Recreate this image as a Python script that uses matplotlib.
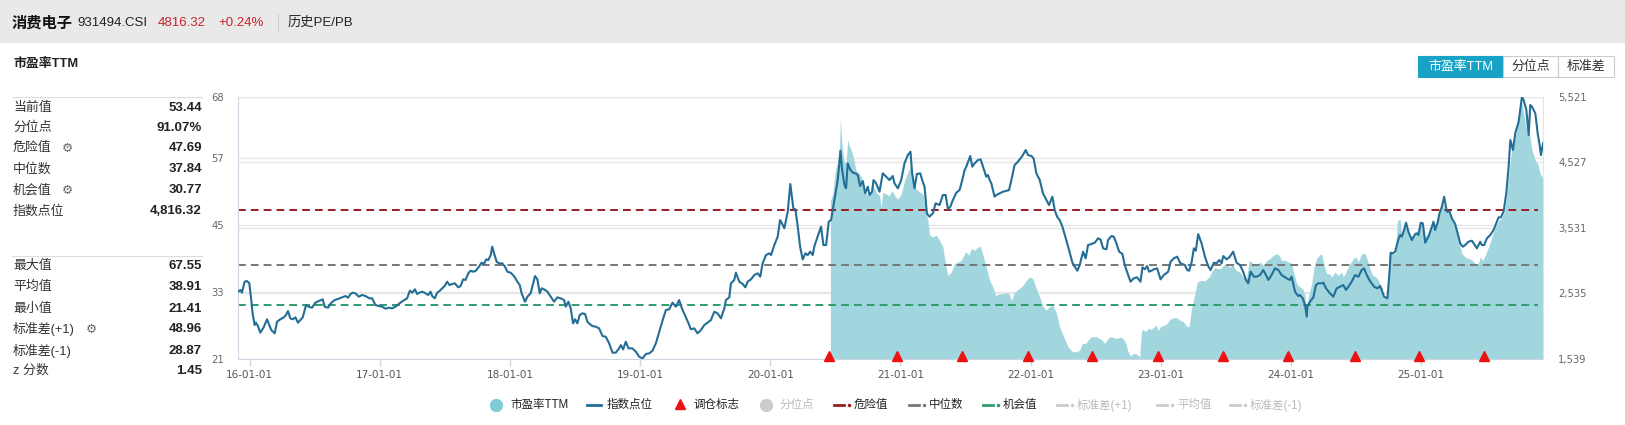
import matplotlib
matplotlib.use('Agg')
import matplotlib.pyplot as plt
from matplotlib.patches import Rectangle
from matplotlib.ticker import FuncFormatter

plt.rcParams['font.family'] = ['Liberation Sans', 'Noto Sans CJK SC', 'DejaVu Sans']

# ---- data (dates as decimal years) ----
# index level (right axis)
index_pts = [
    (2015.911, 2562), (2015.929, 2587), (2015.941, 2547), (2015.962, 2714), (2015.980, 2724), (2015.998, 2689),
    (2016.013, 2435), (2016.023, 2233), (2016.039, 2055), (2016.049, 2091), (2016.064, 2040), (2016.082, 1939),
    (2016.108, 2020), (2016.134, 2142), (2016.146, 2081), (2016.167, 1979), (2016.193, 1929), (2016.211, 2106),
    (2016.236, 2142), (2016.262, 2172), (2016.280, 2208), (2016.295, 2268), (2016.313, 2157), (2016.331, 2142),
    (2016.352, 2172), (2016.372, 2091), (2016.390, 2131), (2016.408, 2172), (2016.434, 2359), (2016.454, 2334),
    (2016.480, 2319), (2016.505, 2395), (2016.531, 2420), (2016.562, 2446), (2016.577, 2334), (2016.603, 2319),
    (2016.628, 2395), (2016.654, 2435), (2016.685, 2456), (2016.711, 2476), (2016.736, 2496), (2016.757, 2471),
    (2016.775, 2527), (2016.793, 2547), (2016.813, 2537), (2016.839, 2486), (2016.864, 2512), (2016.890, 2496),
    (2016.921, 2461), (2016.941, 2461), (2016.967, 2359), (2016.993, 2344), (2017.018, 2334), (2017.044, 2304),
    (2017.070, 2319), (2017.095, 2309), (2017.121, 2334), (2017.146, 2375), (2017.172, 2415), (2017.210, 2461),
    (2017.231, 2577), (2017.249, 2547), (2017.270, 2598), (2017.287, 2527), (2017.305, 2547), (2017.326, 2562),
    (2017.352, 2537), (2017.372, 2512), (2017.390, 2562), (2017.403, 2496), (2017.423, 2461), (2017.441, 2547),
    (2017.459, 2572), (2017.480, 2613), (2017.500, 2653), (2017.518, 2714), (2017.536, 2663), (2017.557, 2679),
    (2017.577, 2689), (2017.603, 2628), (2017.621, 2648), (2017.641, 2750), (2017.659, 2740), (2017.680, 2841),
    (2017.698, 2881), (2017.716, 2866), (2017.736, 2876), (2017.762, 2942), (2017.782, 3003), (2017.800, 2983),
    (2017.818, 3053), (2017.834, 3043), (2017.852, 3119), (2017.864, 3246), (2017.882, 3119), (2017.898, 3018),
    (2017.916, 2993), (2017.941, 2993), (2017.962, 2942), (2017.980, 2866), (2018.005, 2851), (2018.031, 2800),
    (2018.057, 2714), (2018.075, 2663), (2018.090, 2537), (2018.116, 2410), (2018.134, 2486), (2018.159, 2537),
    (2018.172, 2638), (2018.193, 2800), (2018.211, 2750), (2018.229, 2537), (2018.244, 2613), (2018.262, 2598),
    (2018.288, 2562), (2018.313, 2486), (2018.339, 2410), (2018.364, 2476), (2018.390, 2461), (2018.416, 2435),
    (2018.429, 2334), (2018.449, 2410), (2018.467, 2309), (2018.485, 2081), (2018.500, 2142), (2018.518, 2081),
    (2018.536, 2208), (2018.557, 2233), (2018.577, 2223), (2018.595, 2106), (2018.613, 2071), (2018.634, 2040),
    (2018.659, 2030), (2018.685, 2005), (2018.711, 1888), (2018.736, 1878), (2018.762, 1777), (2018.788, 1635),
    (2018.813, 1635), (2018.839, 1701), (2018.852, 1751), (2018.870, 1686), (2018.890, 1802), (2018.911, 1701),
    (2018.941, 1701), (2018.967, 1650), (2018.993, 1574), (2019.018, 1545), (2019.044, 1615), (2019.070, 1625),
    (2019.095, 1665), (2019.121, 1777), (2019.147, 1954), (2019.172, 2121), (2019.198, 2283), (2019.223, 2294),
    (2019.249, 2395), (2019.275, 2334), (2019.300, 2435), (2019.321, 2309), (2019.347, 2192), (2019.372, 2081),
    (2019.390, 1990), (2019.416, 2005), (2019.441, 1929), (2019.467, 1979), (2019.493, 2055), (2019.518, 2091),
    (2019.544, 2131), (2019.570, 2258), (2019.595, 2233), (2019.621, 2157), (2019.647, 2309), (2019.659, 2435),
    (2019.685, 2476), (2019.698, 2689), (2019.723, 2740), (2019.736, 2851), (2019.762, 2714), (2019.788, 2679),
    (2019.808, 2628), (2019.826, 2714), (2019.852, 2750), (2019.877, 2815), (2019.903, 2841), (2019.923, 2790),
    (2019.941, 2993), (2019.967, 3119), (2019.993, 3145), (2020.006, 3119), (2020.031, 3271), (2020.057, 3398),
    (2020.075, 3651), (2020.090, 3601), (2020.108, 3525), (2020.134, 3778), (2020.154, 4198), (2020.177, 3829),
    (2020.193, 3813), (2020.211, 3550), (2020.229, 3246), (2020.249, 3053), (2020.270, 3145), (2020.288, 3119),
    (2020.306, 3170), (2020.326, 3119), (2020.339, 3256), (2020.357, 3357), (2020.377, 3474), (2020.390, 3550),
    (2020.408, 3271), (2020.429, 3271), (2020.449, 3626), (2020.467, 3651), (2020.493, 3965), (2020.518, 4259),
    (2020.531, 4523), (2020.539, 4705), (2020.552, 4411), (2020.570, 4183), (2020.582, 4133), (2020.595, 4513),
    (2020.613, 4421), (2020.634, 4371), (2020.654, 4361), (2020.672, 4335), (2020.690, 4168), (2020.711, 4244),
    (2020.729, 4057), (2020.749, 4158), (2020.762, 4031), (2020.782, 4082), (2020.793, 4259), (2020.813, 4209),
    (2020.839, 4082), (2020.864, 4361), (2020.890, 4310), (2020.916, 4259), (2020.941, 4320), (2020.954, 4209),
    (2020.980, 4133), (2021.006, 4259), (2021.031, 4513), (2021.057, 4639), (2021.077, 4690), (2021.090, 4361),
    (2021.108, 4133), (2021.126, 4350), (2021.152, 4361), (2021.167, 4259), (2021.185, 4158), (2021.203, 3753),
    (2021.223, 3702), (2021.249, 3753), (2021.270, 3905), (2021.300, 3879), (2021.326, 4031), (2021.347, 4031),
    (2021.365, 3813), (2021.383, 3854), (2021.403, 3955), (2021.429, 4067), (2021.454, 4107), (2021.475, 4259),
    (2021.493, 4411), (2021.506, 4462), (2021.536, 4624), (2021.552, 4462), (2021.570, 4513), (2021.595, 4563),
    (2021.616, 4573), (2021.634, 4462), (2021.659, 4310), (2021.672, 4335), (2021.685, 4259), (2021.698, 4209),
    (2021.711, 4107), (2021.723, 4006), (2021.736, 4031), (2021.762, 4057), (2021.788, 4082), (2021.818, 4097),
    (2021.834, 4107), (2021.852, 4259), (2021.877, 4487), (2021.903, 4538), (2021.936, 4624), (2021.962, 4715),
    (2021.980, 4639), (2022.006, 4624), (2022.023, 4588), (2022.044, 4361), (2022.070, 4259), (2022.095, 4057),
    (2022.121, 3955), (2022.141, 3879), (2022.167, 4006), (2022.185, 3803), (2022.203, 3702), (2022.223, 3651),
    (2022.244, 3550), (2022.270, 3373), (2022.295, 3195), (2022.321, 3003), (2022.339, 2942), (2022.359, 2881),
    (2022.377, 2967), (2022.403, 3170), (2022.423, 3069), (2022.441, 3271), (2022.467, 3287), (2022.493, 3307),
    (2022.518, 3373), (2022.536, 3357), (2022.557, 3221), (2022.582, 3205), (2022.595, 3347), (2022.621, 3408),
    (2022.639, 3398), (2022.659, 3297), (2022.680, 3170), (2022.705, 3135), (2022.723, 2967), (2022.749, 2815),
    (2022.767, 2714), (2022.792, 2765), (2022.818, 2780), (2022.844, 2714), (2022.859, 2932), (2022.877, 2902),
    (2022.895, 2952), (2022.910, 2866), (2022.928, 2881), (2022.946, 2902), (2022.972, 2917), (2022.998, 2750),
    (2023.023, 2815), (2023.057, 2866), (2023.075, 3018), (2023.100, 3069), (2023.126, 3094), (2023.151, 2993),
    (2023.185, 2967), (2023.203, 2891), (2023.218, 2881), (2023.236, 3003), (2023.254, 3221), (2023.269, 3185),
    (2023.287, 3438), (2023.313, 3297), (2023.339, 3094), (2023.364, 2952), (2023.382, 2891), (2023.408, 3003),
    (2023.428, 2993), (2023.449, 3043), (2023.467, 2993), (2023.480, 3104), (2023.505, 3053), (2023.526, 3084),
    (2023.556, 3170), (2023.582, 3003), (2023.608, 2967), (2023.633, 2866), (2023.654, 2740), (2023.672, 2689),
    (2023.690, 2866), (2023.715, 2790), (2023.736, 2790), (2023.762, 2815), (2023.787, 2891), (2023.808, 2815),
    (2023.826, 2740), (2023.851, 2815), (2023.877, 2917), (2023.903, 2891), (2023.928, 2815), (2023.967, 2765),
    (2023.992, 2740), (2024.005, 2790), (2024.031, 2562), (2024.056, 2496), (2024.069, 2512), (2024.090, 2461),
    (2024.108, 2359), (2024.121, 2182), (2024.126, 2344), (2024.146, 2410), (2024.172, 2476), (2024.192, 2663),
    (2024.210, 2689), (2024.236, 2689), (2024.249, 2699), (2024.269, 2613), (2024.300, 2537), (2024.325, 2486),
    (2024.351, 2613), (2024.377, 2638), (2024.402, 2663), (2024.423, 2588), (2024.441, 2638), (2024.466, 2714),
    (2024.492, 2815), (2024.518, 2790), (2024.543, 2891), (2024.561, 2917), (2024.582, 2815), (2024.602, 2740),
    (2024.620, 2689), (2024.638, 2638), (2024.664, 2613), (2024.684, 2648), (2024.697, 2588), (2024.715, 2486),
    (2024.741, 2461), (2024.756, 2841), (2024.766, 3155), (2024.782, 3145), (2024.800, 3170), (2024.825, 3357),
    (2024.838, 3423), (2024.851, 3398), (2024.869, 3499), (2024.884, 3611), (2024.902, 3474), (2024.928, 3347),
    (2024.954, 3438), (2024.966, 3449), (2024.979, 3423), (2024.997, 3611), (2025.013, 3601), (2025.031, 3307),
    (2025.056, 3398), (2025.074, 3499), (2025.095, 3626), (2025.107, 3499), (2025.125, 3601), (2025.141, 3753),
    (2025.159, 3854), (2025.177, 4006), (2025.197, 3778), (2025.218, 3778), (2025.236, 3677), (2025.261, 3590),
    (2025.279, 3459), (2025.300, 3297), (2025.320, 3246), (2025.338, 3271), (2025.364, 3322), (2025.390, 3337),
    (2025.407, 3287), (2025.428, 3221), (2025.454, 3322), (2025.466, 3271), (2025.484, 3271), (2025.505, 3373),
    (2025.531, 3423), (2025.556, 3499), (2025.577, 3601), (2025.595, 3692), (2025.613, 3692), (2025.633, 3778),
    (2025.654, 4057), (2025.672, 4462), (2025.685, 4867), (2025.705, 4715), (2025.723, 4969), (2025.749, 5146),
    (2025.774, 5521), (2025.787, 5475), (2025.808, 5323), (2025.826, 4943), (2025.838, 5399), (2025.851, 5374),
    (2025.877, 5272), (2025.895, 4969), (2025.910, 4791), (2025.920, 4639), (2025.936, 4816),
]

# PE TTM (left axis), available from mid-2020
pe_pts = [
    (2020.462, 49.4), (2020.480, 50.6), (2020.500, 54.9), (2020.518, 56.3), (2020.531, 58.9), (2020.539, 64.0),
    (2020.549, 60.1), (2020.565, 56.6), (2020.582, 56.0), (2020.595, 60.3), (2020.608, 59.2), (2020.621, 58.6),
    (2020.634, 57.6), (2020.646, 56.3), (2020.659, 54.8), (2020.685, 54.3), (2020.711, 53.0), (2020.736, 50.6),
    (2020.757, 50.3), (2020.775, 51.2), (2020.787, 52.4), (2020.813, 50.9), (2020.839, 50.3), (2020.852, 48.2),
    (2020.864, 50.9), (2020.890, 50.6), (2020.911, 50.3), (2020.936, 51.2), (2020.962, 50.1), (2020.980, 49.7),
    (2021.006, 50.6), (2021.031, 53.0), (2021.057, 54.5), (2021.082, 56.0), (2021.095, 53.6), (2021.116, 51.8),
    (2021.134, 51.2), (2021.152, 50.9), (2021.172, 50.6), (2021.193, 47.9), (2021.211, 45.8), (2021.223, 43.3),
    (2021.249, 42.9), (2021.275, 43.2), (2021.300, 42.3), (2021.326, 41.1), (2021.352, 37.2), (2021.365, 36.0),
    (2021.390, 36.6), (2021.416, 38.1), (2021.442, 38.4), (2021.467, 38.7), (2021.493, 39.9), (2021.506, 40.2),
    (2021.526, 39.6), (2021.544, 40.8), (2021.570, 40.5), (2021.595, 41.1), (2021.613, 41.2), (2021.634, 39.6),
    (2021.659, 37.5), (2021.685, 35.1), (2021.711, 33.9), (2021.731, 32.4), (2021.762, 32.7), (2021.788, 32.7),
    (2021.818, 32.9), (2021.834, 32.7), (2021.852, 31.5), (2021.877, 33.0), (2021.911, 33.6), (2021.941, 34.2),
    (2021.967, 35.1), (2021.993, 35.7), (2022.018, 35.4), (2022.044, 33.6), (2022.070, 32.1), (2022.095, 30.4),
    (2022.121, 29.8), (2022.146, 30.4), (2022.172, 30.6), (2022.198, 29.2), (2022.223, 26.8), (2022.254, 25.0),
    (2022.287, 23.2), (2022.321, 22.3), (2022.351, 22.3), (2022.377, 22.6), (2022.397, 23.8), (2022.423, 23.8),
    (2022.441, 24.4), (2022.467, 25.0), (2022.505, 25.0), (2022.544, 24.5), (2022.569, 23.8), (2022.582, 24.3),
    (2022.608, 25.0), (2022.633, 24.9), (2022.659, 24.7), (2022.685, 24.9), (2022.710, 24.7), (2022.731, 23.8),
    (2022.749, 22.3), (2022.767, 21.5), (2022.787, 22.0), (2022.813, 21.9), (2022.838, 21.41), (2022.851, 26.1),
    (2022.864, 26.3), (2022.885, 25.9), (2022.903, 26.5), (2022.928, 26.3), (2022.946, 26.7), (2022.962, 27.1),
    (2022.980, 26.1), (2022.998, 26.8), (2023.031, 27.1), (2023.049, 27.4), (2023.069, 28.1), (2023.095, 28.4),
    (2023.121, 28.4), (2023.146, 28.0), (2023.172, 27.7), (2023.197, 26.9), (2023.218, 26.8), (2023.236, 30.1),
    (2023.262, 32.7), (2023.280, 34.8), (2023.305, 35.1), (2023.339, 35.0), (2023.356, 35.4), (2023.372, 35.7),
    (2023.390, 36.6), (2023.415, 37.4), (2023.441, 37.2), (2023.459, 37.2), (2023.480, 37.8), (2023.505, 38.1),
    (2023.531, 37.4), (2023.551, 38.2), (2023.577, 36.9), (2023.608, 36.6), (2023.633, 35.7), (2023.659, 35.4),
    (2023.679, 38.7), (2023.705, 38.2), (2023.736, 37.8), (2023.762, 38.4), (2023.787, 37.8), (2023.813, 38.7),
    (2023.838, 39.0), (2023.864, 39.6), (2023.890, 39.9), (2023.910, 39.6), (2023.928, 38.7), (2023.954, 38.7),
    (2023.980, 38.4), (2024.005, 38.2), (2024.023, 36.3), (2024.044, 34.5), (2024.069, 33.9), (2024.090, 33.6),
    (2024.108, 32.4), (2024.121, 29.5), (2024.133, 32.1), (2024.159, 34.5), (2024.177, 37.5), (2024.197, 39.0),
    (2024.218, 39.6), (2024.236, 39.9), (2024.254, 37.8), (2024.274, 36.3), (2024.295, 36.3), (2024.313, 35.7),
    (2024.338, 36.6), (2024.364, 36.0), (2024.390, 36.6), (2024.402, 35.7), (2024.428, 36.9), (2024.454, 38.1),
    (2024.479, 39.0), (2024.500, 39.3), (2024.518, 38.4), (2024.543, 39.9), (2024.569, 39.9), (2024.587, 38.7),
    (2024.607, 37.2), (2024.628, 36.0), (2024.654, 35.7), (2024.672, 35.1), (2024.684, 34.5), (2024.697, 33.9),
    (2024.715, 32.1), (2024.741, 32.1), (2024.756, 40.0), (2024.774, 39.9), (2024.800, 39.9), (2024.818, 45.8),
    (2024.838, 46.1), (2024.851, 43.2), (2024.869, 45.2), (2024.884, 45.2), (2024.902, 43.5), (2024.928, 42.9),
    (2024.954, 43.5), (2024.966, 43.8), (2024.979, 44.6), (2024.997, 45.2), (2025.013, 45.2), (2025.031, 42.9),
    (2025.056, 43.5), (2025.082, 45.2), (2025.107, 45.2), (2025.125, 45.8), (2025.146, 47.3), (2025.166, 49.1),
    (2025.184, 47.6), (2025.210, 47.3), (2025.236, 45.8), (2025.261, 44.6), (2025.287, 42.3), (2025.313, 39.9),
    (2025.338, 39.3), (2025.364, 39.0), (2025.390, 38.8), (2025.415, 38.1), (2025.441, 38.2), (2025.454, 39.3),
    (2025.474, 38.7), (2025.492, 39.6), (2025.518, 41.1), (2025.543, 42.9), (2025.569, 44.6), (2025.595, 45.8),
    (2025.620, 46.4), (2025.638, 47.3), (2025.659, 50.6), (2025.679, 55.4), (2025.697, 58.9), (2025.723, 60.7),
    (2025.749, 64.0), (2025.769, 67.55), (2025.787, 65.2), (2025.813, 61.6), (2025.833, 61.3), (2025.851, 58.6),
    (2025.877, 56.6), (2025.895, 56.0), (2025.915, 54.2), (2025.936, 53.44),
]

# rebalance marks
rebalance = [2020.454, 2020.977, 2021.469, 2021.977, 2022.469, 2022.977,
             2023.477, 2023.977, 2024.492, 2024.985, 2025.485]

danger_val = 47.69
median_val = 37.84
chance_val = 30.77

pe_ticks = [21, 33, 45, 57, 68]
idx_ticks = [1539, 2535, 3531, 4527, 5521]
year_ticks = [2016, 2017, 2018, 2019, 2020, 2021, 2022, 2023, 2024, 2025]
year_labels = ['16-01-01', '17-01-01', '18-01-01', '19-01-01', '20-01-01',
               '21-01-01', '22-01-01', '23-01-01', '24-01-01', '25-01-01']

stats_top_labels = ['当前值', '分位点', '危险值', '中位数', '机会值', '指数点位']
stats_top_values = ['53.44', '91.07%', '47.69', '37.84', '30.77', '4,816.32']
stats_bot_labels = ['最大值', '平均值', '最小值', '标准差(+1)', '标准差(-1)', 'z 分数']
stats_bot_values = ['67.55', '38.91', '21.41', '48.96', '28.87', '1.45']

idx_t = [p[0] for p in index_pts]
idx_v = [p[1] for p in index_pts]
pe_t = [p[0] for p in pe_pts]
pe_v = [p[1] for p in pe_pts]

# colours
fill_color = '#a1d6df'
line_color = '#236e96'
danger_color = '#9b1c20'
median_color = '#777777'
chance_color = '#2f9c6c'
tri_color = '#ee1111'
grid_color = '#e6e6e6'
axis_color = '#ccd6e0'

W, H = 1625, 425
fig = plt.figure(figsize=(W / 100, H / 100), dpi=100, facecolor='white')

# background layer in pixel coordinates (header, side panel, buttons, legend)
bg = fig.add_axes([0, 0, 1, 1], zorder=0)
bg.set_xlim(0, W)
bg.set_ylim(H, 0)
bg.axis('off')
bg.add_patch(Rectangle((0, 0), W, 43, color='#e9e9e9', lw=0))

# header
bg.text(12, 23, '消费电子', fontsize=11, fontweight='bold', color='#111111', va='center')
bg.text(77, 23, '931494.CSI', fontsize=9.5, color='#222222', va='center')
bg.text(158, 23, '4816.32', fontsize=9.5, color='#c8232c', va='center')
bg.text(218, 23, '+0.24%', fontsize=9.5, color='#c8232c', va='center')
bg.plot([278, 278], [14, 31], color='#cfcfcf', lw=0.8)
bg.text(288, 23, '历史PE/PB', fontsize=9.5, color='#222222', va='center')

# left stats panel
bg.text(13, 64, '市盈率TTM', fontsize=9.3, fontweight='bold', color='#222222', va='center')
bg.plot([12, 202], [97, 97], color='#dddddd', lw=0.8)
bg.plot([12, 202], [256, 256], color='#dddddd', lw=0.8)
top_rows = [108, 128, 148, 169, 190, 211]
bot_rows = [266, 287, 309, 329, 351, 371]
for y, lab, val in zip(top_rows, stats_top_labels, stats_top_values):
    bg.text(13, y, lab, fontsize=9.3, color='#333333', va='center')
    bg.text(202, y, val, fontsize=9.5, fontweight='bold', color='#222222', va='center', ha='right')
for y, lab, val in zip(bot_rows, stats_bot_labels, stats_bot_values):
    bg.text(13, y, lab, fontsize=9.3, color='#333333', va='center')
    bg.text(202, y, val, fontsize=9.5, fontweight='bold', color='#222222', va='center', ha='right')
for gx, gy in [(67, 148), (67, 190), (91, 329)]:
    bg.text(gx, gy, '\u2699', fontsize=9, color='#666666', va='center', ha='center',
            family='DejaVu Sans')

# buttons top right
bg.add_patch(Rectangle((1418, 56), 85, 21, facecolor='#17a2c6', edgecolor='#17a2c6', lw=0.8))
bg.add_patch(Rectangle((1503, 56), 55, 21, facecolor='white', edgecolor='#cccccc', lw=0.8))
bg.add_patch(Rectangle((1558, 56), 56, 21, facecolor='white', edgecolor='#cccccc', lw=0.8))
bg.text(1460.5, 66.5, '市盈率TTM', fontsize=9.3, color='white', ha='center', va='center')
bg.text(1530.5, 66.5, '分位点', fontsize=9.3, color='#333333', ha='center', va='center')
bg.text(1586, 66.5, '标准差', fontsize=9.3, color='#333333', ha='center', va='center')

# legend
ly = 405
active = '#222222'
muted = '#bbbbbb'
bg.plot([496], [ly], 'o', ms=8.5, color='#7fcbd6')
bg.text(510, ly, '市盈率TTM', fontsize=8.3, color=active, va='center')
bg.plot([587, 601], [ly, ly], color=line_color, lw=2)
bg.text(607, ly, '指数点位', fontsize=8.3, color=active, va='center')
bg.plot([680], [ly - 1], '^', ms=7.5, color=tri_color)
bg.text(693, ly, '调仓标志', fontsize=8.3, color=active, va='center')
bg.plot([766], [ly], 'o', ms=8.5, color='#cccccc')
bg.text(779, ly, '分位点', fontsize=8.3, color=muted, va='center')
dash_items = [(834, danger_color, '危险值', active), (909, median_color, '中位数', active),
              (983, chance_color, '机会值', active), (1057, '#cccccc', '标准差(+1)', muted),
              (1157, '#cccccc', '平均值', muted), (1230, '#cccccc', '标准差(-1)', muted)]
for x0, col, lab, tcol in dash_items:
    bg.plot([x0, x0 + 10], [ly, ly], color=col, lw=2)
    bg.plot([x0 + 14.5], [ly], 'o', ms=1.5, color=col)
    bg.text(x0 + 20, ly, lab, fontsize=8.3, color=tcol, va='center')

# ---- chart ----
rect = [238 / W, 1 - 359 / H, (1543 - 238) / W, 262 / H]
ax = fig.add_axes(rect, zorder=3)
ax_g = ax.twinx()   # right-axis grid, kept beneath the fill
ax_r = ax.twinx()   # index line
ax_g.set_zorder(2)
ax.set_zorder(3)
ax_r.set_zorder(4)
ax_g.patch.set_visible(True)
ax_g.patch.set_facecolor('white')
ax.patch.set_visible(False)
ax_r.patch.set_visible(False)

xmin, xmax = idx_t[0], idx_t[-1]
for a in (ax, ax_g, ax_r):
    a.set_xlim(xmin, xmax)

ax.set_ylim(21, 68)
ax_g.set_ylim(1539, 5521)
ax_r.set_ylim(1539, 5521)

# grids
for v in pe_ticks[1:-1]:
    ax.axhline(v, color=grid_color, lw=1, zorder=0)
for v in idx_ticks[1:-1]:
    ax_g.axhline(v, color=grid_color, lw=1, zorder=0)
ax.axhline(68, color=grid_color, lw=1, zorder=0)

# PE fill
ax.fill_between(pe_t, 21, pe_v, color=fill_color, lw=0, zorder=1)

# reference lines
for v, c in [(danger_val, danger_color), (median_val, median_color), (chance_val, chance_color)]:
    ax.axhline(v, xmin=0, xmax=0.996, color=c, lw=1.4, dashes=(4, 2.6), zorder=2)

# index line
ax_r.plot(idx_t, idx_v, color=line_color, lw=1.5, zorder=3, solid_joinstyle='round')

# rebalance triangles
ax_r.plot(rebalance, [0.012] * len(rebalance), '^', ms=7, color=tri_color,
          transform=ax_r.get_xaxis_transform(), clip_on=False, zorder=10)

# axes styling
for a in (ax, ax_g, ax_r):
    for s in a.spines.values():
        s.set_visible(False)
ax.spines['left'].set_visible(True)
ax.spines['left'].set_color(axis_color)
ax.spines['bottom'].set_visible(True)
ax.spines['bottom'].set_color(axis_color)
ax.spines['right'].set_visible(True)
ax.spines['right'].set_color('#e3e3e3')

ax.set_yticks(pe_ticks)
ax.set_yticklabels([str(v) for v in pe_ticks])
ax_r.set_yticks(idx_ticks)
ax_r.yaxis.set_major_formatter(FuncFormatter(lambda v, p: f'{int(round(v)):,}'))
ax_g.set_yticks([])
ax_g.tick_params(axis='y', length=0, labelright=False)

ax.set_xticks(year_ticks)
ax.set_xticklabels(year_labels)

ax.tick_params(axis='y', length=0, pad=10, labelsize=7.2, labelcolor='#666666')
ax_r.tick_params(axis='y', length=0, pad=11, labelsize=7.2, labelcolor='#666666')
ax.tick_params(axis='x', length=5, width=1, color=axis_color, pad=3, labelsize=7.5, labelcolor='#555555')

for lab in ax.get_xticklabels() + ax.get_yticklabels() + ax_r.get_yticklabels():
    lab.set_fontfamily('DejaVu Sans')

fig.savefig('out.png', dpi=100, facecolor='white')
